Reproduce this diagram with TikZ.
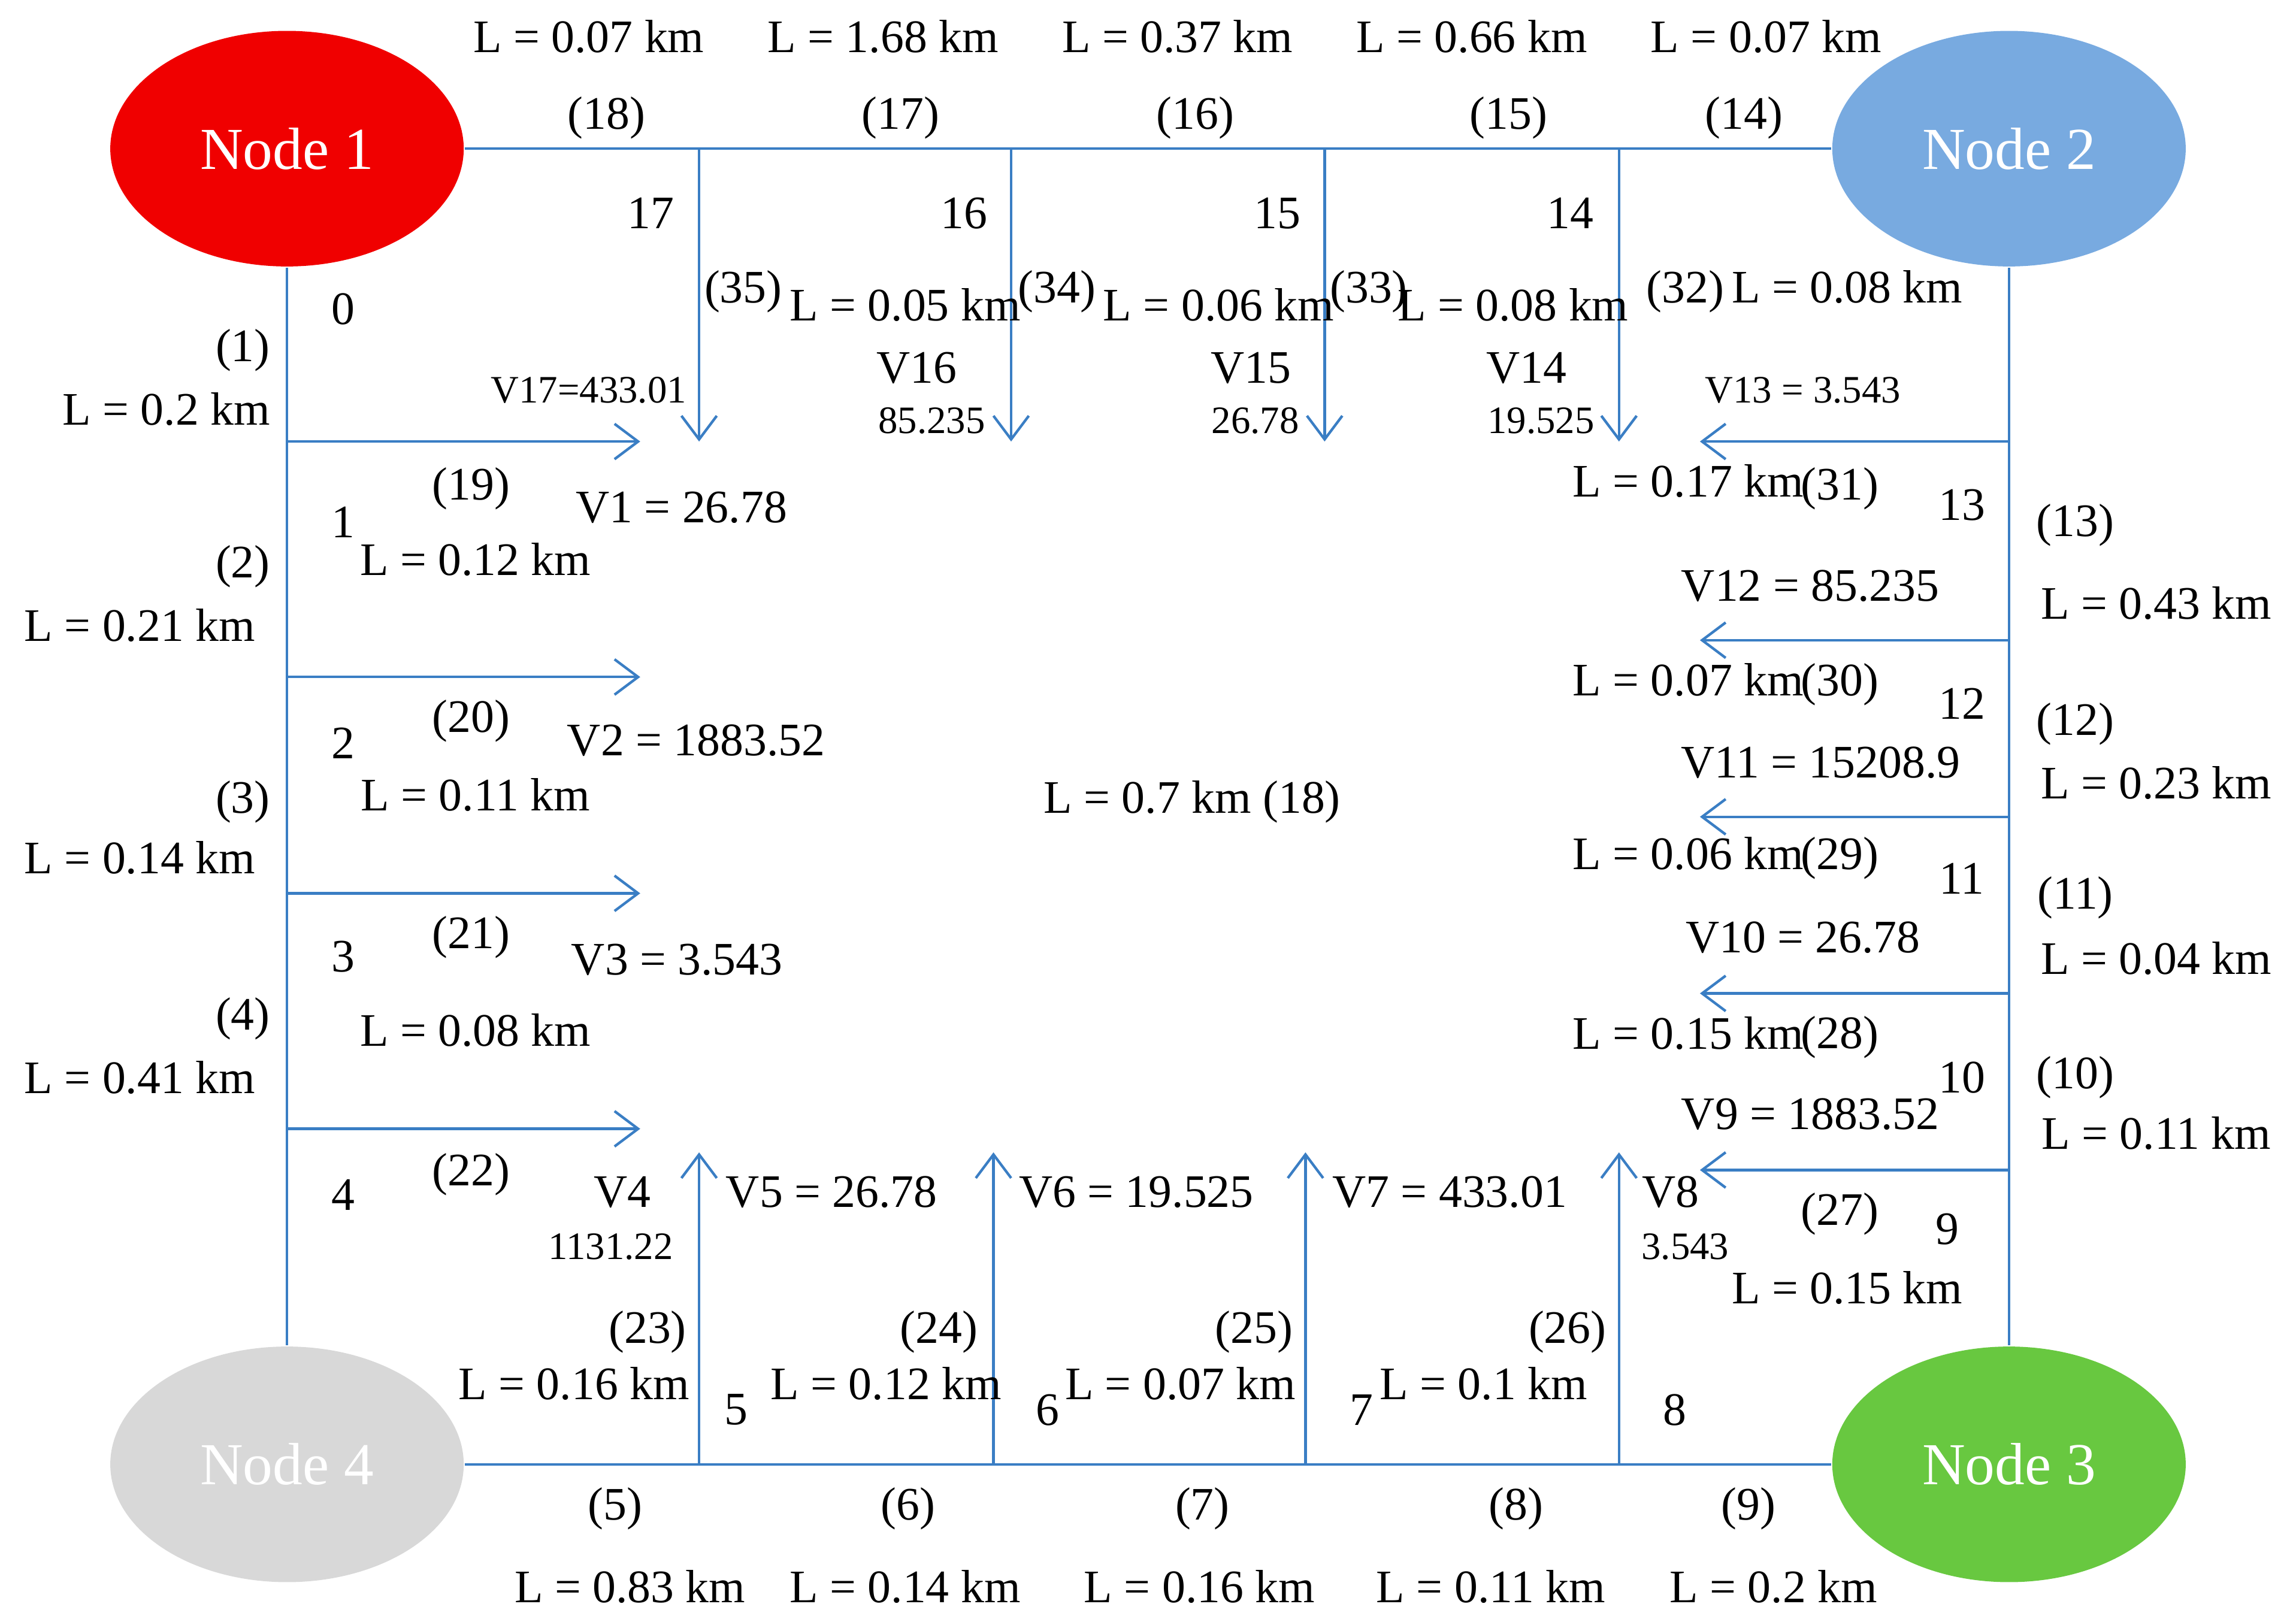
\documentclass[tikz,border=0pt]{standalone}
\usepackage{fontspec}
\setmainfont{Liberation Serif}
\usetikzlibrary{arrows.meta,shapes.geometric}
\definecolor{ln}{HTML}{3A7EC4}
\begin{document}
\begin{tikzpicture}[x=0.01cm,y=-0.01cm,
 lbl/.style={inner sep=0pt,font=\fontsize{9}{10}\selectfont},
 sm/.style={inner sep=0pt,font=\fontsize{7.5}{9}\selectfont},
 nd/.style={ellipse,inner sep=0pt,minimum width=2.4cm,minimum height=1.6cm,draw=none,text=white,font=\fontsize{11.5}{13}\selectfont},
 w/.style={draw=ln,line width=0.5pt},
 ar/.style={w,-{Straight Barb[length=1.6mm,width=2.4mm]}}]
\useasboundingbox (0,0) rectangle (1560,1096);
\node[nd,fill={rgb,255:red,240;green,0;blue,0}] (n1) at (195,101) {Node 1};
\node[nd,fill={rgb,255:red,120;green,170;blue,224}] (n2) at (1365,101) {Node 2};
\node[nd,fill={rgb,255:red,104;green,200;blue,64}] (n3) at (1365,995) {Node 3};
\node[nd,fill={rgb,255:red,216;green,216;blue,216}] (n4) at (195,995) {Node 4};
\draw[w] (n1) -- (n2);
\draw[w] (n4) -- (n3);
\draw[w] (n1) -- (n4);
\draw[w] (n2) -- (n3);
\foreach \x [count=\i] in {475,687,900,1100}{
 \coordinate (ts\i) at (\x,101); \coordinate (te\i) at (\x,300);
 \draw[ar] (ts\i) -- (te\i);}
\foreach \x [count=\i] in {475,675,887,1100}{
 \coordinate (bs\i) at (\x,995); \coordinate (be\i) at (\x,783);
 \draw[ar] (bs\i) -- (be\i);}
\foreach \y [count=\i] in {300,460,607,767}{
 \coordinate (ls\i) at (195,\y); \coordinate (le\i) at (435,\y);
 \draw[ar] (ls\i) -- (le\i);}
\foreach \y [count=\i] in {300,435,555,675,795}{
 \coordinate (rs\i) at (1365,\y); \coordinate (re\i) at (1155,\y);
 \draw[ar] (rs\i) -- (re\i);}
\foreach \x/\y/\s [count=\i] in {
400/25/{L = 0.07 km},600/25/{L = 1.68 km},800/25/{L = 0.37 km},1000/25/{L = 0.66 km},1200/25/{L = 0.07 km},
412/80/(18),612/80/(17),812/80/(16),1025/80/(15),1185/80/(14),
442/145/17,655/145/16,868/145/15,1067/145/14,
505/198/(35),615/207/{L = 0.05 km},718/198/(34),828/207/{L = 0.06 km},930/198/(33),1028/207/{L = 0.08 km},1145/198/(32),1255/195/{L = 0.08 km},
623/250/V16,850/250/V15,1037/250/V14,
233/210/0,165/238/(1),113/278/{L = 0.2 km},233/355/1,320/332/(19),463/345/{V1 = 26.78},323/380/{L = 0.12 km},
165/385/(2),95/425/{L = 0.21 km},233/505/2,320/490/(20),473/503/{V2 = 1883.52},323/540/{L = 0.11 km},
165/545/(3),95/583/{L = 0.14 km},233/650/3,320/637/(21),460/652/{V3 = 3.543},323/700/{L = 0.08 km},
165/692/(4),95/732/{L = 0.41 km},233/812/4,320/798/(22),423/810/V4,
810/545/{L = 0.7 km (18)},
1147/327/{L = 0.17 km},1250/332/(31),1333/343/13,1410/357/(13),1465/410/{L = 0.43 km},1230/398/{V12 = 85.235},
1147/462/{L = 0.07 km},1250/465/(30),1333/478/12,1410/492/(12),1465/532/{L = 0.23 km},1237/518/{V11 = 15208.9},
1147/580/{L = 0.06 km},1250/583/(29),1333/597/11,1410/610/(11),1465/651/{L = 0.04 km},1225/637/{V10 = 26.78},
1147/702/{L = 0.15 km},1250/705/(28),1333/732/10,1410/732/(10),1465/770/{L = 0.11 km},1230/757/{V9 = 1883.52},
1250/825/(27),1323/835/9,1255/875/{L = 0.15 km},1135/810/V8,
565/810/{V5 = 26.78},772/810/{V6 = 19.525},985/810/{V7 = 433.01},
440/905/(23),390/940/{L = 0.16 km},500/958/5,638/905/(24),602/940/{L = 0.12 km},712/958/6,
852/905/(25),802/940/{L = 0.07 km},925/958/7,1065/905/(26),1008/940/{L = 0.1 km},1138/958/8,
418/1025/(5),617/1025/(6),817/1025/(7),1030/1025/(8),1188/1025/(9),
428/1078/{L = 0.83 km},615/1078/{L = 0.14 km},815/1078/{L = 0.16 km},1013/1078/{L = 0.11 km},1205/1078/{L = 0.2 km}}
 \node[lbl] (t\i) at (\x,\y) {\s};
\foreach \x/\y/\s [count=\i] in {400/265/{V17=433.01},633/286/85.235,853/286/26.78,1047/286/19.525,1225/265/{V13 = 3.543},
415/847/1131.22,1145/847/3.543}
 \node[sm] (s\i) at (\x,\y) {\s};
\end{tikzpicture}
\end{document}
